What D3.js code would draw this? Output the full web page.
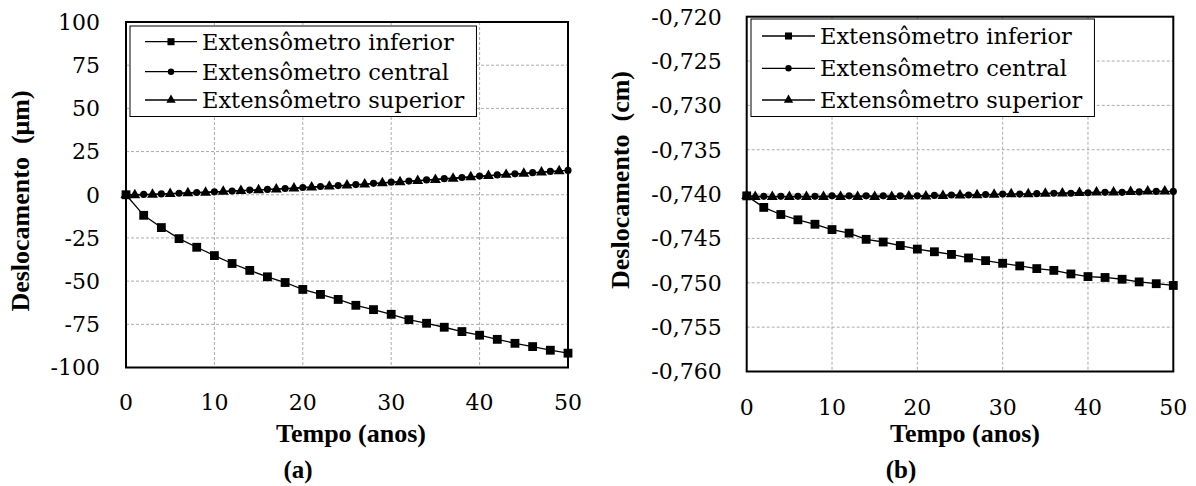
<!DOCTYPE html>
<html>
<head>
<meta charset="utf-8">
<script src="https://cdn.jsdelivr.net/npm/d3@7"></script>
<style>
  html, body { margin: 0; padding: 0; background: #fff; }
  svg { display: block; }
  text { white-space: pre; }
</style>
</head>
<body>
<svg id="chart" width="1196" height="486"></svg>
<script>
// ---------------- DATA ----------------
const yearsEven = [0,2,4,6,8,10,12,14,16,18,20,22,24,26,28,30,32,34,36,38,40,42,44,46,48,50];
const yearsSup  = [0,1,3,5,7,9,11,13,15,17,19,21,23,25,27,29,31,33,35,37,39,41,43,45,47,49];

const seriesNames = ["Extensômetro inferior", "Extensômetro central", "Extensômetro superior"];

// (a) displacement in µm
const aInferior = [0,-11.9,-19.0,-25.4,-30.4,-35.2,-39.8,-43.8,-47.5,-50.8,-54.8,-57.7,-60.6,-64.0,-66.5,-69.2,-72.3,-74.4,-76.7,-79.2,-81.3,-83.7,-86.0,-87.9,-90.0,-91.7];
const aCentral  = [0,0.2,0.5,0.9,1.3,1.7,2.2,2.7,3.1,3.6,4.2,4.8,5.3,5.9,6.6,7.3,7.9,8.6,9.3,10.0,10.8,11.5,12.1,12.8,13.5,14.1];
const aSuperior = [0,-0.2,0.1,0.5,0.9,1.3,1.8,2.2,2.7,3.2,3.7,4.3,4.8,5.4,6.0,6.7,7.4,8.0,8.7,9.4,10.2,10.9,11.6,12.3,13.0,13.7];

// (b) displacement in cm
const bInferior = [-0.7402,-0.7415,-0.7423,-0.7429,-0.7434,-0.7440,-0.7444,-0.7451,-0.7454,-0.7458,-0.7462,-0.7465,-0.7468,-0.7472,-0.7475,-0.7478,-0.7481,-0.7484,-0.7486,-0.7490,-0.7493,-0.7494,-0.7496,-0.7499,-0.7501,-0.7503];
const bCentral  = [-0.7402,-0.74025,-0.74025,-0.74025,-0.74025,-0.7402,-0.7402,-0.7402,-0.7402,-0.7402,-0.7402,-0.74015,-0.7401,-0.7401,-0.74005,-0.7400,-0.7400,-0.73995,-0.7399,-0.7399,-0.73985,-0.7398,-0.7398,-0.73975,-0.7397,-0.7397];
const bSuperior = [-0.7402,-0.7403,-0.7403,-0.7403,-0.7403,-0.7403,-0.7403,-0.7403,-0.7403,-0.7403,-0.74025,-0.74025,-0.7402,-0.74015,-0.7401,-0.74005,-0.7400,-0.7400,-0.73995,-0.7399,-0.73985,-0.7398,-0.7398,-0.73975,-0.7397,-0.7397];

const xTicks = [0,10,20,30,40,50];
const aYTicks = [100,75,50,25,0,-25,-50,-75,-100];
const aYTickLabels = ["100","75","50","25","0","-25","-50","-75","-100"];
const bYTicks = [-0.720,-0.725,-0.730,-0.735,-0.740,-0.745,-0.750,-0.755,-0.760];
const bYTickLabels = ["-0,720","-0,725","-0,730","-0,735","-0,740","-0,745","-0,750","-0,755","-0,760"];

const xTitle = "Tempo (anos)";
const aYTitle = "Deslocamento  (\u03bcm)";
const bYTitle = "Deslocamento  (cm)";
const panelLabels = ["(a)", "(b)"];

// ---------------- DRAW ----------------
const svg = d3.select("#chart");
const TICK_FONT = "'DejaVu Serif', serif";
const TITLE_FONT = "'Liberation Serif', 'Times New Roman', serif";

const markerSym = [d3.symbolSquare, d3.symbolCircle, d3.symbolTriangle];
const markerSize = [78, 40, 52];
const legendMarkerSize = [50, 32, 38];

function drawPanel(o) {
  const g = svg.append("g");
  const x = d3.scaleLinear().domain([0, 50]).range([o.x0, o.x1]);
  const y = d3.scaleLinear().domain(o.yDomain).range([o.y1, o.y0]);

  // gridlines
  g.append("g").selectAll("line")
    .data(o.yTicks.filter(v => v !== o.yDomain[0] && v !== o.yDomain[1]))
    .join("line")
    .attr("x1", o.x0).attr("x2", o.x1)
    .attr("y1", d => y(d)).attr("y2", d => y(d))
    .attr("stroke", "#ababab").attr("stroke-width", 1).attr("stroke-dasharray", "3,2");
  g.append("g").selectAll("line")
    .data(xTicks.filter(v => v !== 0 && v !== 50))
    .join("line")
    .attr("x1", d => x(d)).attr("x2", d => x(d))
    .attr("y1", o.y0).attr("y2", o.y1)
    .attr("stroke", "#ababab").attr("stroke-width", 1).attr("stroke-dasharray", "3,2");

  // tick labels
  g.append("g").selectAll("text")
    .data(o.yTicks)
    .join("text")
    .attr("x", o.yLabelX).attr("y", d => y(d)).attr("dy", "0.36em")
    .attr("text-anchor", "end")
    .attr("font-family", TICK_FONT).attr("font-size", 22).attr("fill", "#000")
    .text((d, i) => o.yTickLabels[i]);
  g.append("g").selectAll("text")
    .data(xTicks)
    .join("text")
    .attr("x", d => x(d)).attr("y", o.xLabelY)
    .attr("text-anchor", "middle")
    .attr("font-family", TICK_FONT).attr("font-size", 22).attr("fill", "#000")
    .text(d => d);

  // series
  const series = [
    { xs: yearsEven, ys: o.inferior },
    { xs: yearsEven, ys: o.central },
    { xs: yearsSup,  ys: o.superior }
  ];
  const line = d3.line().x(d => x(d[0])).y(d => y(d[1]));
  [2, 1, 0].forEach(si => {
    const s = series[si];
    const pts = s.xs.map((t, i) => [t, s.ys[i]]);
    g.append("path").attr("d", line(pts))
      .attr("fill", "none").attr("stroke", "#000").attr("stroke-width", 1.3);
    g.append("g").selectAll("path")
      .data(pts).join("path")
      .attr("transform", d => `translate(${x(d[0])},${y(d[1])})`)
      .attr("d", d3.symbol().type(markerSym[si]).size(markerSize[si]))
      .attr("fill", "#000");
  });

  // plot border
  g.append("rect")
    .attr("x", o.x0).attr("y", o.y0)
    .attr("width", o.x1 - o.x0).attr("height", o.y1 - o.y0)
    .attr("fill", "none").attr("stroke", "#000").attr("stroke-width", 2);

  // axis titles
  g.append("text")
    .attr("x", o.xTitleX).attr("y", o.xTitleY)
    .attr("text-anchor", "middle")
    .attr("font-family", TITLE_FONT).attr("font-weight", "bold").attr("font-size", 26)
    .text(xTitle);
  g.append("text")
    .attr("transform", `translate(${o.yTitleX},${o.yTitleY}) rotate(-90)`)
    .attr("text-anchor", "middle")
    .attr("font-family", TITLE_FONT).attr("font-weight", "bold").attr("font-size", 26)
    .text(o.yTitle);
  g.append("text")
    .attr("x", o.panelX).attr("y", 478)
    .attr("text-anchor", "middle")
    .attr("font-family", TITLE_FONT).attr("font-weight", "bold").attr("font-size", 25)
    .text(o.panelLabel);

  // legend
  const lg = g.append("g");
  const box = lg.append("rect")
    .attr("x", o.leg.x).attr("y", o.leg.y)
    .attr("fill", "#fff").attr("stroke", "#000").attr("stroke-width", 1);
  let maxRight = 0;
  seriesNames.forEach((name, i) => {
    const ry = o.leg.rows[i];
    lg.append("line")
      .attr("x1", o.leg.lx0).attr("x2", o.leg.lx1)
      .attr("y1", ry).attr("y2", ry)
      .attr("stroke", "#000").attr("stroke-width", 1.3);
    lg.append("path")
      .attr("transform", `translate(${(o.leg.lx0 + o.leg.lx1) / 2},${ry})`)
      .attr("d", d3.symbol().type(markerSym[i]).size(legendMarkerSize[i]))
      .attr("fill", "#000");
    const t = lg.append("text")
      .attr("x", o.leg.tx).attr("y", ry).attr("dy", "0.36em")
      .attr("font-family", TICK_FONT).attr("font-size", 22.5).attr("fill", "#000")
      .text(name);
    const bb = t.node().getBBox();
    maxRight = Math.max(maxRight, bb.x + bb.width);
  });
  box.attr("width", maxRight + o.leg.padR - o.leg.x)
     .attr("height", o.leg.h);
}

drawPanel({
  x0: 126, x1: 568, y0: 22, y1: 367.5,
  yDomain: [-100, 100], yTicks: aYTicks, yTickLabels: aYTickLabels,
  yLabelX: 100, xLabelY: 410,
  inferior: aInferior, central: aCentral, superior: aSuperior,
  xTitleX: 351, xTitleY: 441.5,
  yTitle: aYTitle, yTitleX: 29, yTitleY: 201,
  panelLabel: panelLabels[0], panelX: 298,
  leg: { x: 130, y: 26, h: 90.5, rows: [41.7, 71.7, 100], lx0: 145, lx1: 197, tx: 202, padR: 12 }
});

drawPanel({
  x0: 746.7, x1: 1173.3, y0: 16.7, y1: 371.5,
  yDomain: [-0.760, -0.720], yTicks: bYTicks, yTickLabels: bYTickLabels,
  yLabelX: 721.7, xLabelY: 414.5,
  inferior: bInferior, central: bCentral, superior: bSuperior,
  xTitleX: 965, xTitleY: 441.5,
  yTitle: bYTitle, yTitleX: 629, yTitleY: 180,
  panelLabel: panelLabels[1], panelX: 901,
  leg: { x: 751, y: 19, h: 97.5, rows: [36, 68.3, 100], lx0: 762, lx1: 815, tx: 820, padR: 12 }
});
</script>
</body>
</html>
